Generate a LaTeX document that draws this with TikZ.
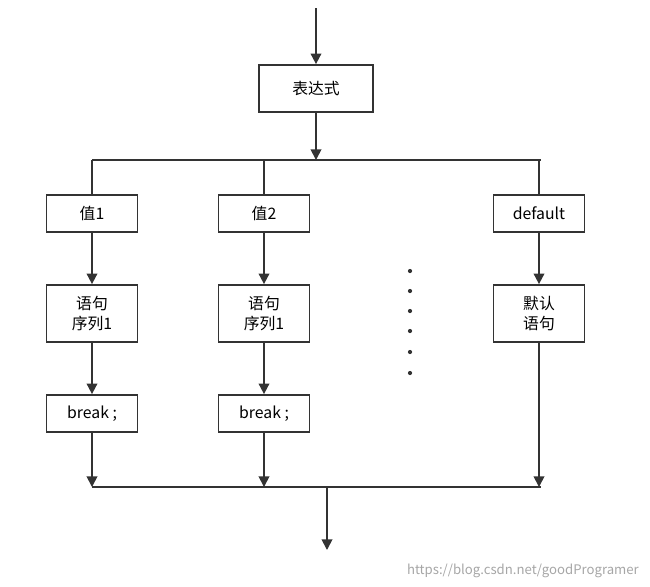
\documentclass[tikz,border=0pt]{standalone}
\usepackage{fontspec}
\setmainfont{Noto Sans CJK SC}
\usetikzlibrary{arrows.meta}
\usetikzlibrary{positioning}

\begin{document}
\begin{tikzpicture}[x=0.02cm, y=-0.02cm]
    \tikzstyle{box}=[draw=black!80, line width=1pt, fill=white, inner sep=0pt,
        font=\fontsize{9}{11}\selectfont, align=center]
    \tikzstyle{flow}=[draw=black!80, line width=1pt]
    \tikzstyle{arr}=[flow, -{Triangle[length=6pt, width=6pt]}]

    \useasboundingbox (0, 0) rectangle (650, 586);

    % top part
    \coordinate (top) at (316, 8);
    \node[box, minimum width=2.28cm, minimum height=0.94cm] (expr) at (316, 88.5) {表达式};
    \coordinate (split) at (316, 160);
    \coordinate (sl) at (92, 160);
    \coordinate (sr) at (541, 160);
    \draw[arr] (top) -- (expr);
    \draw[arr] (expr) -- (split);
    \draw[flow] (sl) -- (sr);

    % branches
    \tikzstyle{valbox}=[box, minimum width=1.82cm, minimum height=0.74cm]
    \tikzstyle{stmtbox}=[box, minimum width=1.82cm, minimum height=1.14cm]
    \node[valbox] (v1) at (92, 213.5) {值1};
    \node[valbox] (v2) at (264, 213.5) {值2};
    \node[valbox] (vd) at (539, 213.5) {default};
    \node[stmtbox] (s1) at (92, 313.5) {语句\\序列1};
    \node[stmtbox] (s2) at (264, 313.5) {语句\\序列1};
    \node[stmtbox] (sd) at (539, 313.5) {默认\\语句};
    \node[valbox] (b1) at (92, 413.5) {break ;};
    \node[valbox] (b2) at (264, 413.5) {break ;};

    \coordinate (j1) at (92, 487);
    \coordinate (j2) at (264, 487);
    \coordinate (jd) at (539, 487);
    \coordinate (jl) at (92, 487);
    \coordinate (jr) at (541, 487);
    \coordinate (jm) at (327, 487);
    \coordinate (bottom) at (327, 550);

    \draw[flow] (v1 |- sl) -- (v1);
    \draw[flow] (v2 |- sl) -- (v2);
    \draw[flow] (vd |- sr) -- (vd);
    \draw[arr] (v1) -- (s1);
    \draw[arr] (v2) -- (s2);
    \draw[arr] (vd) -- (sd);
    \draw[arr] (s1) -- (b1);
    \draw[arr] (s2) -- (b2);
    \draw[arr] (b1) -- (j1);
    \draw[arr] (b2) -- (j2);
    \draw[arr] (sd) -- (jd);
    \draw[flow] (jl) -- (jr);
    \draw[arr] (jm) -- (bottom);

    % dots
    \foreach \y in {271, 291, 311, 331, 352, 373}
        \fill[black!80] (410, \y) circle (1.2pt);

    \node[text=black!35, font=\fontsize{7.5}{9}\selectfont, anchor=east] (mark) at (645, 571)
        {https://blog.csdn.net/goodProgramer};
\end{tikzpicture}
\end{document}
